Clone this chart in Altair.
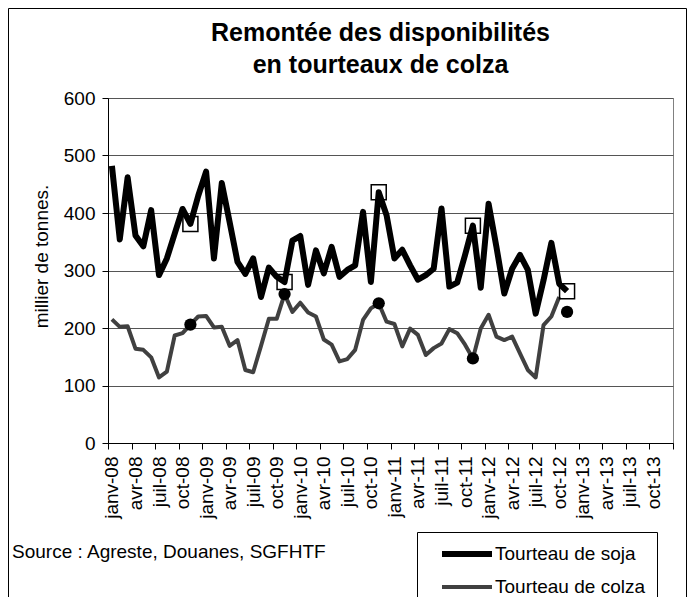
import altair as alt
import pandas as pd

FONT = "Liberation Sans"

title_lines = ["Remontée des disponibilités", "en tourteaux de colza"]
y_title = "millier de tonnes."
source_text = "Source : Agreste, Douanes, SGFHTF"
series_names = ["Tourteau de soja", "Tourteau de colza"]

tick_labels = [
    "janv-08", "avr-08", "juil-08", "oct-08",
    "janv-09", "avr-09", "juil-09", "oct-09",
    "janv-10", "avr-10", "juil-10", "oct-10",
    "janv-11", "avr-11", "juil-11", "oct-11",
    "janv-12", "avr-12", "juil-12", "oct-12",
    "janv-13", "avr-13", "juil-13", "oct-13",
]
n_months = 72

# monthly values from janv-08
soja = [482, 354, 462, 361, 342, 405, 292, 321, 364, 407,
        381, 430, 472, 321, 452, 384, 315, 294, 321, 254,
        305, 289, 280, 352, 360, 275, 335, 295, 341, 289,
        301, 309, 402, 280, 436, 396, 321, 336, 309, 284,
        292, 303, 408, 272, 279, 327, 378, 270, 416, 341,
        260, 303, 327, 301, 225, 283, 348, 277, 264]
colza = [215, 202, 203, 164, 162, 149, 114, 124, 187, 191,
         206, 220, 221, 201, 202, 169, 179, 127, 123, 169,
         216, 216, 259, 228, 244, 227, 220, 180, 171, 142,
         146, 162, 214, 234, 243, 211, 207, 168, 199, 188,
         153, 165, 173, 198, 191, 171, 147, 199, 223, 185,
         179, 185, 156, 127, 114, 205, 220, 254]

# highlighted November values
nov_month = [10, 22, 34, 46, 58]
soja_nov = [381, 280, 436, 378, 264]
colza_nov = [206, 259, 243, 147, 228]

df = pd.concat([
    pd.DataFrame({"m": list(range(len(soja))), "v": soja, "serie": series_names[0]}),
    pd.DataFrame({"m": list(range(len(colza))), "v": colza, "serie": series_names[1]}),
])
sq_df = pd.DataFrame({"m": nov_month, "v": soja_nov})
ci_df = pd.DataFrame({"m": nov_month, "v": colza_nov})

W, H = 565, 345
half = W / n_months / 2

label_arr = "[" + ",".join('"%s"' % t for t in tick_labels) + "]"
x_axis = alt.Axis(
    values=[-0.5 + 3 * k for k in range(n_months // 3 + 1)],
    labelExpr=label_arr + "[round((datum.value+0.5)/3)] || ''",
    labelAngle=270, labelAlign="right", labelBaseline="middle",
    labelFontSize=19, labelOffset=half, labelPadding=7,
    labelFlush=False, labelOverlap=False, labelBound=False,
    tickSize=6, grid=False, title=None,
    domainColor="black", tickColor="black", labelColor="black",
)
y_axis = alt.Axis(
    values=list(range(0, 601, 100)),
    title=y_title, titleFontSize=19, titleFontWeight="normal", titleColor="black",
    titleAngle=270, titleAlign="center", titleBaseline="bottom",
    titleX=-57, titleY=158,
    labelFontSize=19, labelPadding=7, labelColor="black",
    tickSize=6, grid=True, gridColor="#555555",
    domainColor="black", tickColor="black",
)
x = alt.X("m:Q", scale=alt.Scale(domain=[-0.5, n_months - 0.5], nice=False, zero=False), axis=x_axis)
y = alt.Y("v:Q", scale=alt.Scale(domain=[0, 600], nice=False), axis=y_axis)

legend = alt.Legend(orient="none", legendX=309, legendY=434)

frame = alt.Chart(pd.DataFrame({"a": [0]})).mark_rect(
    fill="transparent", stroke="black", strokeWidth=1
).encode(x=alt.value(-99.5), x2=alt.value(578.5), y=alt.value(-89.5), y2=alt.value(520))

lines = alt.Chart(df).mark_line(strokeJoin="round").encode(
    x=x, y=y,
    color=alt.Color("serie:N", title=None, legend=legend,
                    scale=alt.Scale(domain=series_names, range=["#000000", "#404040"])),
    strokeWidth=alt.StrokeWidth("serie:N", title=None, legend=legend,
                                scale=alt.Scale(type="ordinal", domain=series_names, range=[6, 4])),
)

squares = alt.Chart(sq_df).mark_point(
    shape="square", filled=False, size=225, stroke="black", strokeWidth=1.5, opacity=1
).encode(x=x, y=y)

circles = alt.Chart(ci_df).mark_circle(size=150, color="black", opacity=1).encode(x=x, y=y)

source = alt.Chart(pd.DataFrame({"t": [source_text]})).mark_text(
    align="left", baseline="alphabetic", fontSize=19, font=FONT, color="black"
).encode(x=alt.value(-96), y=alt.value(460), text="t:N")

title1 = alt.Chart(pd.DataFrame({"t": [title_lines[0]]})).mark_text(
    align="center", baseline="alphabetic", fontSize=25, fontWeight="bold", font=FONT, color="black"
).encode(x=alt.value(272.5), y=alt.value(-57.5), text="t:N")
title2 = alt.Chart(pd.DataFrame({"t": [title_lines[1]]})).mark_text(
    align="center", baseline="alphabetic", fontSize=25, fontWeight="bold", font=FONT, color="black"
).encode(x=alt.value(272.5), y=alt.value(-25.5), text="t:N")

chart = alt.layer(frame, lines, squares, circles, source, title1, title2).properties(
    width=W, height=H,
    autosize=alt.AutoSizeParams(type="none"),
    padding={"left": 100, "top": 90, "right": 14, "bottom": 154},
).configure(font=FONT).configure_view(
    stroke="#808080", strokeWidth=1
).configure_legend(
    strokeColor="black", fillColor="white", padding=12, symbolOffset=10,
    symbolType="stroke", symbolSize=2500, clipHeight=20, labelFontSize=19, labelFont=FONT,
    labelColor="black", labelOffset=0, rowPadding=13, cornerRadius=0,
    labelLimit=400,
)

chart.save("out.html", embed_options={"renderer": "svg", "actions": False})
